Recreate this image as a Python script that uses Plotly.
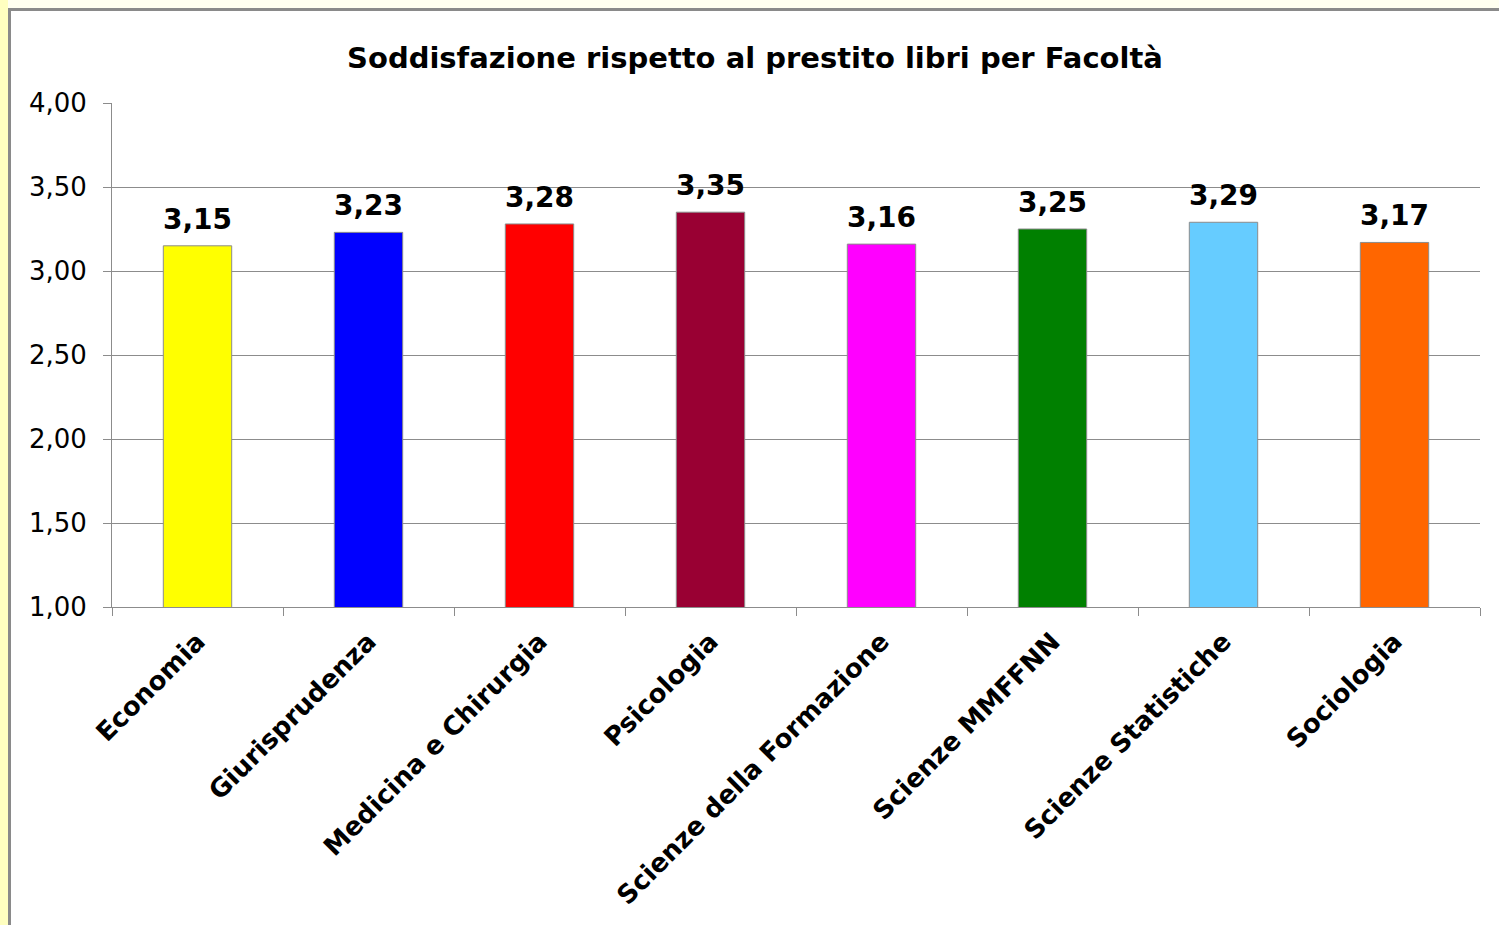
import plotly.graph_objects as go

categories = ["Economia", "Giurisprudenza", "Medicina e Chirurgia", "Psicologia",
              "Scienze della Formazione", "Scienze MMFFNN", "Scienze Statistiche", "Sociologia"]
values = [3.15, 3.23, 3.28, 3.35, 3.16, 3.25, 3.29, 3.17]
colors = ["#FFFF00", "#0000FF", "#FF0000", "#990033", "#FF00FF", "#008000", "#66CCFF", "#FF6600"]
y_ticks = [1.0, 1.5, 2.0, 2.5, 3.0, 3.5, 4.0]

W, H = 1499, 925
L, R, T, B = 112, 19, 103, 318
pw, ph = W - L - R, H - T - B

def px2x(px):
    return (px - L) / pw

def py2y(py):
    return (H - B - py) / ph

labels = [f"{v:.2f}".replace(".", ",") for v in values]

fig = go.Figure(go.Bar(
    x=categories, y=values, width=0.4,
    marker=dict(color=colors, line=dict(color="#8c8c8c", width=1)),
))

annotations = [
    dict(x=c, y=v, xref="x", yref="y", text=f"<b>{t}</b>", showarrow=False,
         yanchor="bottom", xanchor="center", yshift=8,
         font=dict(family="DejaVu Sans", size=28, color="black"))
    for c, v, t in zip(categories, values, labels)
]

shapes = [
    dict(type="rect", xref="paper", yref="paper", layer="below",
         x0=px2x(-5), x1=px2x(8), y0=py2y(-5), y1=py2y(H + 5),
         fillcolor="#FFFFC0", line=dict(width=0)),
    dict(type="rect", xref="paper", yref="paper", layer="below",
         x0=px2x(9.5), x1=px2x(W + 20), y0=py2y(9.5), y1=py2y(H + 20),
         fillcolor="white", line=dict(color="#8a8a8a", width=3)),
]

fig.update_layout(
    width=W, height=H,
    margin=dict(l=L, r=R, t=T, b=B, autoexpand=False),
    paper_bgcolor="#FFFFF0", plot_bgcolor="white",
    separators=",.",
    showlegend=False,
    shapes=shapes,
    annotations=annotations,
    title=dict(text="<b>Soddisfazione rispetto al prestito libri per Facoltà</b>",
               x=755 / W, xanchor="center", y=1 - 58 / H, yanchor="middle",
               font=dict(family="DejaVu Sans", size=29, color="black")),
    font=dict(family="DejaVu Sans", color="black"),
)
fig.update_xaxes(
    type="category", tickson="boundaries", ticks="outside", ticklen=8, tickcolor="#8c8c8c",
    showline=True, linecolor="#8c8c8c", linewidth=1, showgrid=False,
    tickangle=-45, tickfont=dict(family="DejaVu Sans", size=26, color="black", weight="bold"),
    ticklabelstandoff=8,
    range=[-0.5, len(categories) - 0.5],
)
fig.update_yaxes(
    range=[1, 4], tickvals=y_ticks, tickformat=".2f",
    ticks="outside", ticklen=8, tickcolor="#8c8c8c",
    showline=True, linecolor="#8c8c8c", linewidth=1,
    showgrid=True, gridcolor="#8c8c8c", gridwidth=1, zeroline=False,
    tickfont=dict(family="DejaVu Sans", size=26, color="black"),
    ticklabelstandoff=11,
)

fig.write_html("out.html")
